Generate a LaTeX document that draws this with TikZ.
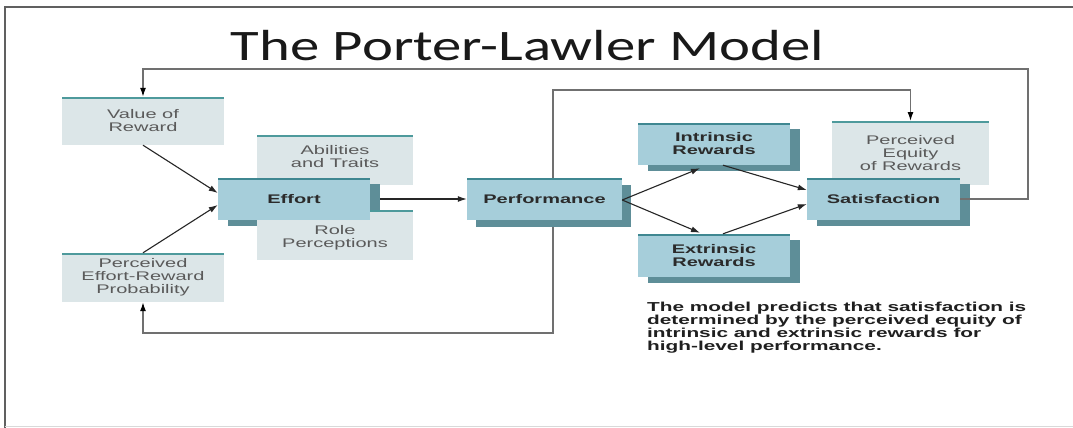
\documentclass[tikz,border=0pt]{standalone}
\usepackage{fontspec}
\setmainfont{Liberation Sans}
\newfontfamily\boxfont[FakeStretch=1.6]{Liberation Sans}
\newfontfamily\titlefont[FakeStretch=1.35]{Carlito}
\usetikzlibrary{arrows.meta}

\definecolor{boxlight}{HTML}{DCE6E8}
\definecolor{boxdark}{HTML}{A6CEDA}
\definecolor{boxshade}{HTML}{5E8E98}
\definecolor{edgeteal}{HTML}{4E9A9C}
\definecolor{edgedark}{HTML}{3F8791}
\definecolor{lightlabel}{HTML}{5A5A5A}
\definecolor{darklabel}{HTML}{2B2B2B}
\definecolor{loopgray}{HTML}{707070}
\definecolor{framegray}{HTML}{606060}

\tikzset{
  topedge/.style={path picture={\draw[#1, line width=3pt]
      (path picture bounding box.north west) -- (path picture bounding box.north east);}},
  lightbox/.style={fill=boxlight, inner sep=0pt, align=center, text=lightlabel,
      font=\boxfont\fontsize{12.5}{13}\selectfont, topedge=edgeteal},
  darkbox/.style={fill=boxdark, inner sep=0pt, align=center, text=darklabel,
      font=\boxfont\bfseries\fontsize{12.5}{13}\selectfont, topedge=edgedark},
  shadebox/.style={fill=boxshade, inner sep=0pt},
  flow/.style={draw=black!85, line width=1.1pt, -{Latex[length=9pt,width=6pt]}},
  feedback/.style={draw=loopgray, line width=1.3pt},
  feedarrow/.style={feedback, -{Latex[length=9pt,width=6pt,color=black]}},
  note/.style={align=left, inner sep=0pt, text=black!88,
      font=\boxfont\bfseries\fontsize{13}{13}\selectfont},
}

\begin{document}
\begin{tikzpicture}[x=1pt, y=-1pt]
\useasboundingbox (0,0) rectangle (1073,428);
\fill[white] (0,0) rectangle (1073,428);

% slide frame
\draw[framegray, line width=2pt] (5,428) -- (5,7) -- (1073,7);
\draw[black!15, line width=1pt] (5,426) -- (1073,426);

% title
\node[anchor=base, inner sep=0pt, font=\titlefont\fontsize{43.5}{50}\selectfont, text=black!90]
  (title) at (527.5,60) {The Porter-Lawler Model};

% left column
\node[lightbox, minimum width=162pt, minimum height=48pt] (vr) at (143,121) {Value of\\Reward};
\node[lightbox, minimum width=162pt, minimum height=49pt] (per) at (143,277.5) {Perceived\\Effort-Reward\\Probability};

% effort group
\node[lightbox, minimum width=156pt, minimum height=50pt,
      label={[yshift=3.5pt, align=center, text=lightlabel,
              font=\boxfont\fontsize{12.5}{13}\selectfont]center:Abilities\\and Traits}]
  (abil) at (335,160) {};
\node[shadebox, minimum width=152pt, minimum height=42pt] (ef-sh) at (304,205) {};
\node[lightbox, minimum width=156pt, minimum height=50pt,
      label={[yshift=-3pt, align=center, text=lightlabel,
              font=\boxfont\fontsize{12.5}{13}\selectfont]center:Role\\Perceptions}]
  (role) at (335,235) {};
\node[darkbox, minimum width=152pt, minimum height=42pt] (ef) at (294,199) {Effort};

% feedback loops through performance (drawn behind the box)
\coordinate (ptop) at (553,90);
\coordinate (pbot) at (553,333);
\coordinate (sturn) at (1028,69);

% performance and rewards
\node[shadebox, minimum width=155pt, minimum height=42pt] (perf-sh) at (553.5,206) {};
\draw[feedarrow] (perf-sh.north -| ptop) -- (ptop) -| (910.5,121);
\draw[feedarrow] (perf-sh.south -| pbot) -- (pbot) -| (per.south);
\node[darkbox, minimum width=155pt, minimum height=42pt] (perf) at (544.5,199) {Performance};

\node[shadebox, minimum width=152pt, minimum height=42pt] (intr-sh) at (724,150) {};
\node[darkbox, minimum width=152pt, minimum height=42pt] (intr) at (714,144) {Intrinsic\\Rewards};
\node[shadebox, minimum width=152pt, minimum height=43pt] (extr-sh) at (724,261.5) {};
\node[darkbox, minimum width=152pt, minimum height=43pt] (extr) at (714,255.5) {Extrinsic\\Rewards};

% equity and satisfaction
\node[lightbox, minimum width=157pt, minimum height=64pt] (eq) at (910.5,153) {Perceived\\Equity\\of Rewards};
\node[shadebox, minimum width=153pt, minimum height=42pt] (sat-sh) at (893.5,205) {};
\node[darkbox, minimum width=153pt, minimum height=42pt] (sat) at (883.5,199) {Satisfaction};

% connectors
\draw[flow] (vr.south) -- ([yshift=6pt]ef.west);
\draw[flow] (per.north) -- ([yshift=-6pt]ef.west);
\draw[flow] (ef-sh.east |- ef.east) -- (perf.west);
\draw[flow] ([yshift=-1pt]perf.east) -- ([xshift=-14pt, yshift=-3pt]intr.south);
\draw[flow] ([yshift=-1pt]perf.east) -- ([xshift=-14pt, yshift=1pt]extr.north);
\draw[flow] ([xshift=9pt]intr.south) -- ([yshift=9pt]sat.west);
\draw[flow] ([xshift=9pt]extr.north) -- ([yshift=-5pt]sat.west);
\draw[feedarrow] (sat.east) -| (sturn) -| (vr.north);

% caption
\node[note, anchor=north west] (caption) at (647,302)
  {The model predicts that satisfaction is\\
   determined by the perceived equity of\\
   intrinsic and extrinsic rewards for\\
   high-level performance.};
\end{tikzpicture}
\end{document}
